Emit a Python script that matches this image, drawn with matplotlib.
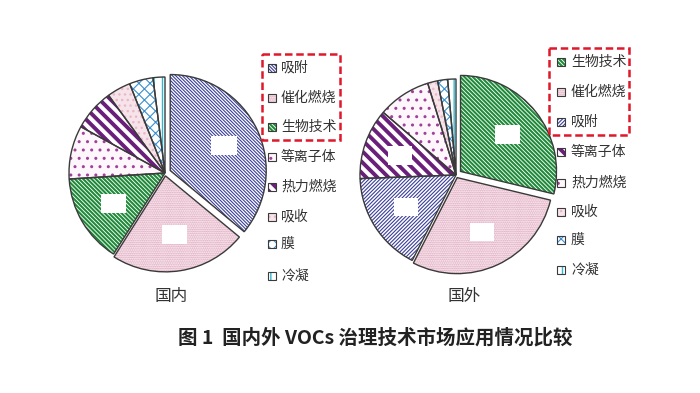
import numpy as np
import matplotlib
matplotlib.use("Agg")
import matplotlib.pyplot as plt
from matplotlib.patches import Rectangle

plt.rcParams['font.family'] = ['Noto Sans CJK SC', 'DejaVu Sans']

# ---------------- data ----------------
cats_dom = ['吸附', '催化燃烧', '生物技术', '等离子体', '热力燃烧', '吸收', '膜', '冷凝']
vals_dom = [36, 23, 15, 9, 7, 4, 4, 2]
cats_for = ['生物技术', '催化燃烧', '吸附', '等离子体', '热力燃烧', '吸收', '膜', '冷凝']
vals_for = [29, 29, 17, 12, 9, 1.7, 1.7, 1.4]
label_dom = '国内'
label_for = '国外'
title = '图 1  国内外 VOCs 治理技术市场应用情况比较'

# style: (face, hatch, hatchcolor, hatch linewidth)
S_BLUE1 = ('white', '\\' * 10, '#3b3f9a', 0.8)
S_BLUE2 = ('white', '/' * 9, '#3b3f9a', 0.8)
S_DOTS = ('#fcf2f6', '.' * 9, '#d99ab2', 0.8)
S_GREEN = ('white', '\\' * 8, '#1f8a3a', 1.5)
S_TRI = ('#fdf6fa', '..', '#a0409a', 1.0)
S_PURP = ('white', '\\' * 3, '#6a1f7a', 2.8)
S_PINK = ('#f6e4ea', '.' * 3, '#e8b8c8', 1.0)
S_WAVE = ('white', 'xxx', '#3a8fd0', 0.8)
S_CYAN = ('white', '||', '#30b8d0', 1.0)
style_dom = [S_BLUE1, S_DOTS, S_GREEN, S_TRI, S_PURP, S_PINK, S_WAVE, S_CYAN]
style_for = [S_GREEN, S_DOTS, S_BLUE2, S_PURP, S_TRI, S_PINK, S_WAVE, S_CYAN]

W, H = 700, 393
fig = plt.figure(figsize=(W / 100, H / 100), dpi=100)
fig.patch.set_facecolor('white')


def apply_style(p, st):
    fc, h, hc, hlw = st
    p.set_facecolor(fc)
    p.set_edgecolor(hc)
    p.set_hatch(h)
    if hasattr(p, 'set_hatch_linewidth'):
        p.set_hatch_linewidth(hlw)


def pie_axes(cx, cy, r):
    half = 120
    ax = fig.add_axes([(cx - half) / W, 1 - (cy + half) / H, 2 * half / W, 2 * half / H])
    ax.set_xlim(-half / r, half / r)
    ax.set_ylim(-half / r, half / r)
    ax.set_aspect('equal')
    ax.axis('off')
    return ax


def draw_pie(ax, vals, styles, nbox, r):
    explode = [0.06, 0.03] + [0] * (len(vals) - 2)
    wedges, _ = ax.pie(vals, startangle=90, counterclock=False, explode=explode,
                       wedgeprops=dict(linewidth=0))
    for w, st in zip(wedges, styles):
        apply_style(w, st)
    ax.pie(vals, startangle=90, counterclock=False, explode=explode,
           wedgeprops=dict(fill=False, edgecolor='#3a3a3a', linewidth=1.0))
    bw, bh = 24 / r, 18 / r
    for w, e in zip(wedges[:nbox], explode[:nbox]):
        mid = np.deg2rad((w.theta1 + w.theta2) / 2)
        cx = (0.62 + e) * np.cos(mid)
        cy = (0.62 + e) * np.sin(mid)
        ax.add_patch(Rectangle((cx - bw / 2, cy - bh / 2), bw, bh,
                               facecolor='white', edgecolor='none', zorder=5))


r1 = 91
ax1 = pie_axes(165, 173, r1)
draw_pie(ax1, vals_dom, style_dom, 3, r1)

r2 = 94
ax2 = pie_axes(456, 175, r2)
draw_pie(ax2, vals_for, style_for, 4, r2)

# overlay axes in pixel coordinates for legends and text
ov = fig.add_axes([0, 0, 1, 1])
ov.set_xlim(0, W)
ov.set_ylim(H, 0)
ov.axis('off')


def legend(cats, styles, mx, tx, ys, box):
    for c, st, y in zip(cats, styles, ys):
        p = Rectangle((mx - 4, y - 4), 8, 8, linewidth=0)
        apply_style(p, st)
        ov.add_patch(p)
        ov.add_patch(Rectangle((mx - 4, y - 4), 8, 8, fill=False,
                               edgecolor='#3a3a3a', linewidth=0.8))
        ov.text(tx, y, c, fontsize=10, color='#333333', va='center', ha='left')
    x0, y0, x1, y1 = box
    ov.add_patch(Rectangle((x0, y0), x1 - x0, y1 - y0, fill=False,
                           edgecolor='#e0182a', linewidth=1.8, linestyle=(0, (3, 1.5))))


legend(cats_dom, style_dom, 272, 281,
       [68, 98, 127, 157, 187, 217, 244, 276], (262, 54, 340, 140))
legend(cats_for, style_for, 561, 571,
       [62, 92, 122, 152, 183, 212, 240, 270], (549, 48, 629, 135))

ov.text(155, 297, label_dom, fontsize=12, color='#333333', va='center', ha='left')
ov.text(448, 297, label_for, fontsize=12, color='#333333', va='center', ha='left')
ov.text(375, 338, title, fontsize=14, fontweight='bold', color='#222222',
        va='center', ha='center')

fig.savefig('out.png', dpi=100, facecolor='white')
